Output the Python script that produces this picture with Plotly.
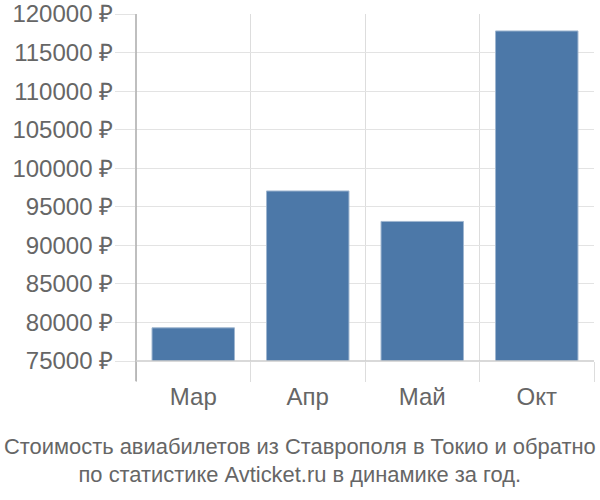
import plotly.graph_objects as go

months = ["Мар", "Апр", "Май", "Окт"]
prices = [79300, 97050, 93100, 117800]
y_ticks = list(range(75000, 120001, 5000))

title_text = ("Стоимость авиабилетов из Ставрополя в Токио и обратно<br>"
              "по статистике Avticket.ru в динамике за год.")

fig = go.Figure()

fig.add_trace(go.Bar(
    x=months,
    y=prices,
    marker=dict(color="#4c78a8", line=dict(color="#9fb6d0", width=1)),
    hoverinfo="x+y",
))

fig.update_layout(
    width=600,
    height=500,
    plot_bgcolor="white",
    paper_bgcolor="white",
    showlegend=False,
    bargap=0.28,
    margin=dict(l=136, r=6, t=14, b=139, autoexpand=False),
    font=dict(family="Liberation Sans, Arial, sans-serif", color="#666666"),
    xaxis=dict(
        type="category",
        tickson="boundaries",
        ticks="outside",
        ticklen=20,
        tickcolor="#dddddd",
        showgrid=True,
        gridcolor="#dddddd",
        gridwidth=1,
        showline=False,
        tickfont=dict(size=24),
        ticklabelstandoff=19,
        range=[-0.5, 3.5],
        automargin=False,
    ),
    yaxis=dict(
        range=[75000, 120000],
        tickvals=y_ticks,
        ticktext=[f"{v} ₽" for v in y_ticks],
        tickfont=dict(size=24),
        ticklabelstandoff=-3,
        ticklabeloverflow="allow",
        showgrid=True,
        gridcolor="#e3e3e3",
        gridwidth=1,
        ticks="outside",
        ticklen=20,
        tickcolor="#e3e3e3",
        zeroline=False,
        showline=False,
        automargin=False,
    ),
)

# axis lines: left vertical and bottom horizontal
fig.add_shape(type="line", xref="paper", yref="paper", x0=0, x1=0, y0=-0.058, y1=1,
              line=dict(color="#aaaaaa", width=1.5))
fig.add_shape(type="line", xref="paper", yref="paper", x0=0, x1=1, y0=0, y1=0,
              line=dict(color="#cccccc", width=1.5))

# bottom caption, centred on the page
fig.add_annotation(
    text=title_text,
    xref="paper", yref="paper",
    x=(300 - 136) / 458, y=-0.286,
    xanchor="center", yanchor="middle",
    showarrow=False,
    font=dict(size=21.9, color="#666666"),
)

# drop the default 8px page margin so the figure sits at the window corner
fig.write_html(
    "out.html",
    config={"displayModeBar": False},
    post_script="document.body.style.margin = '0';",
)
